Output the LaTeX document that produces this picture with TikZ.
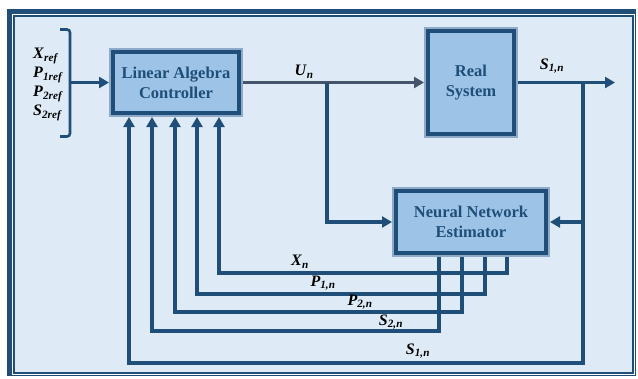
\documentclass[tikz,border=0pt]{standalone}
\usepackage{fontspec}
\setmainfont{Liberation Serif}
\usetikzlibrary{arrows.meta}
\definecolor{dk}{HTML}{1F4E79}
\definecolor{gr}{HTML}{44546A}
\definecolor{boxfill}{HTML}{9DC3E6}
\definecolor{bg}{HTML}{DEEBF7}
\definecolor{boxrim}{HTML}{8FA9C8}
\newcommand{\vlab}[2]{\textbf{\textit{#1}}\textsubscript{\textbf{\textit{#2}}}}
\tikzset{
  blk/.style={draw=dk, line width=4pt, fill=boxfill, preaction={draw=boxrim, line width=8pt},
    inner sep=0pt, outer sep=4pt, align=center, text=dk,
    font=\fontsize{16.5}{20}\selectfont\bfseries},
  arr/.style={draw=dk, line width=3.2pt, -{Triangle[length=10pt,width=11pt]}},
  ln/.style={draw=dk, line width=3.2pt},
  lab/.style={inner sep=0pt, text=black, font=\fontsize{16}{19}\selectfont}
}
\begin{document}
\begin{tikzpicture}[x=1pt,y=-1pt]
\useasboundingbox (0,0) rectangle (638,378);
\fill[white] (0,0) rectangle (638,378);
% frame
\fill[dk] (7,9) rectangle (636,376);
\fill[white] (12,14) rectangle (634.5,374.5);
\draw[dk, line width=1.2pt, fill=bg] (14,16) rectangle (633,373);

% blocks
\node[blk, minimum width=126pt, minimum height=61pt] (lac) at (176,82.5) {Linear Algebra\\Controller};
\node[blk, minimum width=86pt, minimum height=103pt] (rs) at (471,82.5) {Real\\System};
\node[blk, minimum width=150pt, minimum height=62pt] (nne) at (471,222) {Neural Network\\Estimator};

% inputs
\draw[dk, line width=2.6pt, rounded corners=3pt] (60,29.5) -- (70,29.5) -- (70,136.5) -- (60,136.5);
\node[lab, anchor=west] (xr) at (33,56) {\vlab{X}{ref}};
\node[lab, anchor=west] (p1r) at (33,75) {\vlab{P}{1ref}};
\node[lab, anchor=west] (p2r) at (33,94) {\vlab{P}{2ref}};
\node[lab, anchor=west] (s2r) at (33,113) {\vlab{S}{2ref}};
\coordinate (br) at (70,82.5);
\draw[arr] (br) -- (lac.west);

% control signal
\draw[arr, draw=gr] (lac.east) -- (rs.west);
\node[lab] (un) at (304,72) {\vlab{U}{n}};
\coordinate (b1) at (327,82.5);
\draw[arr] (b1) |- (nne.west);

% output
\coordinate (out) at (615,82.5);
\coordinate (b2) at (583,82.5);
\draw[arr] (rs.east) -- (out);
\node[lab] (s1top) at (552,66) {\vlab{S}{1,n}};
\draw[arr] (b2) |- (nne.east);
\coordinate (c5) at (129,363);
\draw[arr] (b2) |- (c5) -- (c5 |- lac.south);

% estimator feedback
\coordinate (j1) at (507,273); \coordinate (k1) at (219,273);
\coordinate (j2) at (485,294); \coordinate (k2) at (197,294);
\coordinate (j3) at (462,312); \coordinate (k3) at (175,312);
\coordinate (j4) at (439,331); \coordinate (k4) at (152,331);
\draw[arr] (j1 |- nne.south) -- (j1) -- (k1) -- (k1 |- lac.south);
\draw[arr] (j2 |- nne.south) -- (j2) -- (k2) -- (k2 |- lac.south);
\draw[arr] (j3 |- nne.south) -- (j3) -- (k3) -- (k3 |- lac.south);
\draw[arr] (j4 |- nne.south) -- (j4) -- (k4) -- (k4 |- lac.south);

\node[lab] (xn) at (300,262) {\vlab{X}{n}};
\node[lab] (p1n) at (323,283) {\vlab{P}{1,n}};
\node[lab] (p2n) at (360,302) {\vlab{P}{2,n}};
\node[lab] (s2n) at (391,322) {\vlab{S}{2,n}};
\node[lab] (s1n) at (418,351) {\vlab{S}{1,n}};
\end{tikzpicture}
\end{document}
